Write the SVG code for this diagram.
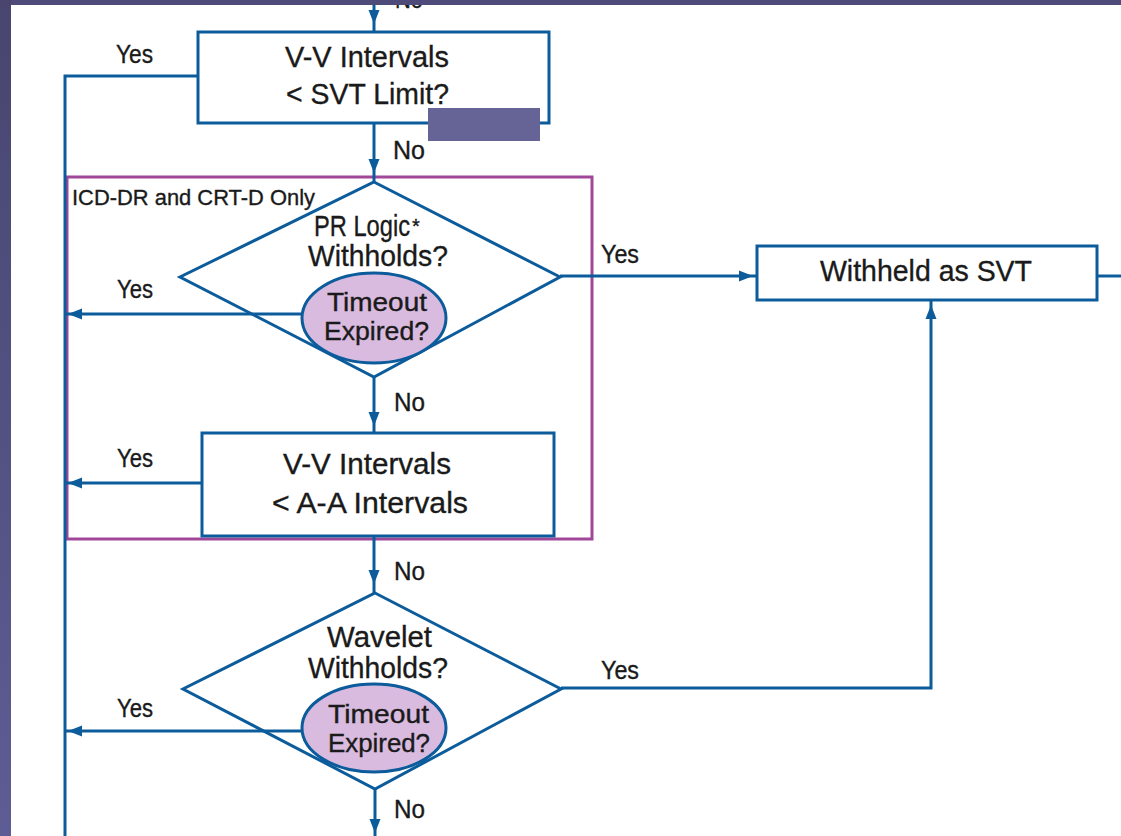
<svg xmlns="http://www.w3.org/2000/svg" width="1121" height="836" viewBox="0 0 1121 836">
<defs>
<style>
.ln{fill:none;stroke:#0c5c9c;stroke-width:3}
.nd{fill:#ffffff;stroke:#0c5c9c;stroke-width:3}
.el{fill:#d9bbe0;stroke:#0c5c9c;stroke-width:3}
.t{font-family:"Liberation Sans",Arial,sans-serif;fill:#1a1a1a;stroke:#1a1a1a;stroke-width:0.35}
.big{font-size:30px}
.mid{font-size:25px}
.lbl{font-size:25px}
.ah{fill:#0c5c9c}
</style>
<path id="ah" d="M0,0 L-14,-5.5 L-14,5.5 Z"/>
<linearGradient id="band" x1="0" y1="0" x2="0" y2="1">
<stop offset="0" stop-color="#48466f"/>
<stop offset="1" stop-color="#5e5c94"/>
</linearGradient>
</defs>
<rect x="0" y="0" width="1121" height="836" fill="#ffffff"/>

<g id="region-icd">
<rect x="67" y="177" width="525" height="362" fill="none" stroke="#a0479a" stroke-width="3"/>
<text class="t" x="72" y="205" font-size="22" textLength="243" lengthAdjust="spacingAndGlyphs">ICD-DR and CRT-D Only</text>
</g>

<g id="node-prlogic">
<polygon class="nd" points="374,182 560,277 374,377 180,277"/>
<text class="t big" x="314" y="236"><tspan textLength="96" lengthAdjust="spacingAndGlyphs">PR Logic</tspan><tspan x="412" dy="-3" font-size="20">*</tspan></text>
<text class="t big" x="308" y="266" textLength="140" lengthAdjust="spacingAndGlyphs">Withholds?</text>
</g>

<g id="node-wavelet">
<polygon class="nd" points="375,593 561,689 375,789 183,689"/>
<text class="t big" x="327" y="647" textLength="105" lengthAdjust="spacingAndGlyphs">Wavelet</text>
<text class="t big" x="308" y="678" textLength="140" lengthAdjust="spacingAndGlyphs">Withholds?</text>
</g>

<g id="connectors">
<path class="ln" d="M374,0 L374,32"/>
<path class="ln" d="M198,76 L65,76 L65,836"/>
<path class="ln" d="M374,123 L374,182"/>
<path class="ln" d="M560,276 L757,276"/>
<path class="ln" d="M1097,276 L1121,276"/>
<path class="ln" d="M302,314 L65,314"/>
<path class="ln" d="M374,377 L374,433"/>
<path class="ln" d="M202,483 L65,483"/>
<path class="ln" d="M374,536 L374,593"/>
<path class="ln" d="M302,731 L65,731"/>
<path class="ln" d="M561,688 L931,688 L931,300"/>
<path class="ln" d="M375,789 L375,836"/>
<use href="#ah" class="ah" transform="translate(374,24) rotate(90)"/>
<use href="#ah" class="ah" transform="translate(374,173) rotate(90)"/>
<use href="#ah" class="ah" transform="translate(753,276)"/>
<use href="#ah" class="ah" transform="translate(931,305) rotate(-90)"/>
<use href="#ah" class="ah" transform="translate(68,314) rotate(180)"/>
<use href="#ah" class="ah" transform="translate(374,426) rotate(90)"/>
<use href="#ah" class="ah" transform="translate(68,483) rotate(180)"/>
<use href="#ah" class="ah" transform="translate(374,584) rotate(90)"/>
<use href="#ah" class="ah" transform="translate(68,731) rotate(180)"/>
<use href="#ah" class="ah" transform="translate(375,833) rotate(90)"/>
<text class="t lbl" x="395" y="8" textLength="28" lengthAdjust="spacingAndGlyphs">No</text>
<text class="t lbl" x="116" y="63" textLength="37" lengthAdjust="spacingAndGlyphs">Yes</text>
<text class="t lbl" x="393" y="159" textLength="32" lengthAdjust="spacingAndGlyphs">No</text>
<text class="t lbl" x="117" y="298" textLength="36" lengthAdjust="spacingAndGlyphs">Yes</text>
<text class="t lbl" x="601" y="263" textLength="38" lengthAdjust="spacingAndGlyphs">Yes</text>
<text class="t lbl" x="394" y="411" textLength="31" lengthAdjust="spacingAndGlyphs">No</text>
<text class="t lbl" x="117" y="467" textLength="36" lengthAdjust="spacingAndGlyphs">Yes</text>
<text class="t lbl" x="394" y="580" textLength="31" lengthAdjust="spacingAndGlyphs">No</text>
<text class="t lbl" x="117" y="717" textLength="36" lengthAdjust="spacingAndGlyphs">Yes</text>
<text class="t lbl" x="601" y="679" textLength="38" lengthAdjust="spacingAndGlyphs">Yes</text>
<text class="t lbl" x="394" y="818" textLength="31" lengthAdjust="spacingAndGlyphs">No</text>
</g>

<g id="node-svt-limit">
<rect class="nd" x="198" y="32" width="351" height="91"/>
<text class="t big" x="285" y="67" textLength="164" lengthAdjust="spacingAndGlyphs">V-V Intervals</text>
<text class="t big" x="286" y="104" textLength="163" lengthAdjust="spacingAndGlyphs">&lt; SVT Limit?</text>
</g>

<g id="node-timeout-1">
<ellipse class="el" cx="374" cy="318" rx="72" ry="45"/>
<text class="t mid" x="327" y="311" textLength="100" lengthAdjust="spacingAndGlyphs">Timeout</text>
<text class="t mid" x="324" y="340" textLength="105" lengthAdjust="spacingAndGlyphs">Expired?</text>
</g>

<g id="node-withheld">
<rect class="nd" x="757" y="246" width="340" height="54"/>
<text class="t big" x="820" y="281" textLength="212" lengthAdjust="spacingAndGlyphs">Withheld as SVT</text>
</g>

<g id="node-vv-aa">
<rect class="nd" x="202" y="433" width="352" height="103"/>
<text class="t big" x="283" y="474" textLength="168" lengthAdjust="spacingAndGlyphs">V-V Intervals</text>
<text class="t big" x="272" y="513" textLength="196" lengthAdjust="spacingAndGlyphs">&lt; A-A Intervals</text>
</g>

<g id="node-timeout-2">
<ellipse class="el" cx="374" cy="728" rx="72" ry="44"/>
<text class="t mid" x="328" y="723" textLength="101" lengthAdjust="spacingAndGlyphs">Timeout</text>
<text class="t mid" x="328" y="752" textLength="102" lengthAdjust="spacingAndGlyphs">Expired?</text>
</g>

<g id="frame">
<rect x="0" y="0" width="1121" height="5" fill="#4e4b7a"/>
<rect x="0" y="0" width="11" height="836" fill="url(#band)"/>
<rect x="428" y="108" width="112" height="33" fill="#666496"/>
</g>
</svg>
